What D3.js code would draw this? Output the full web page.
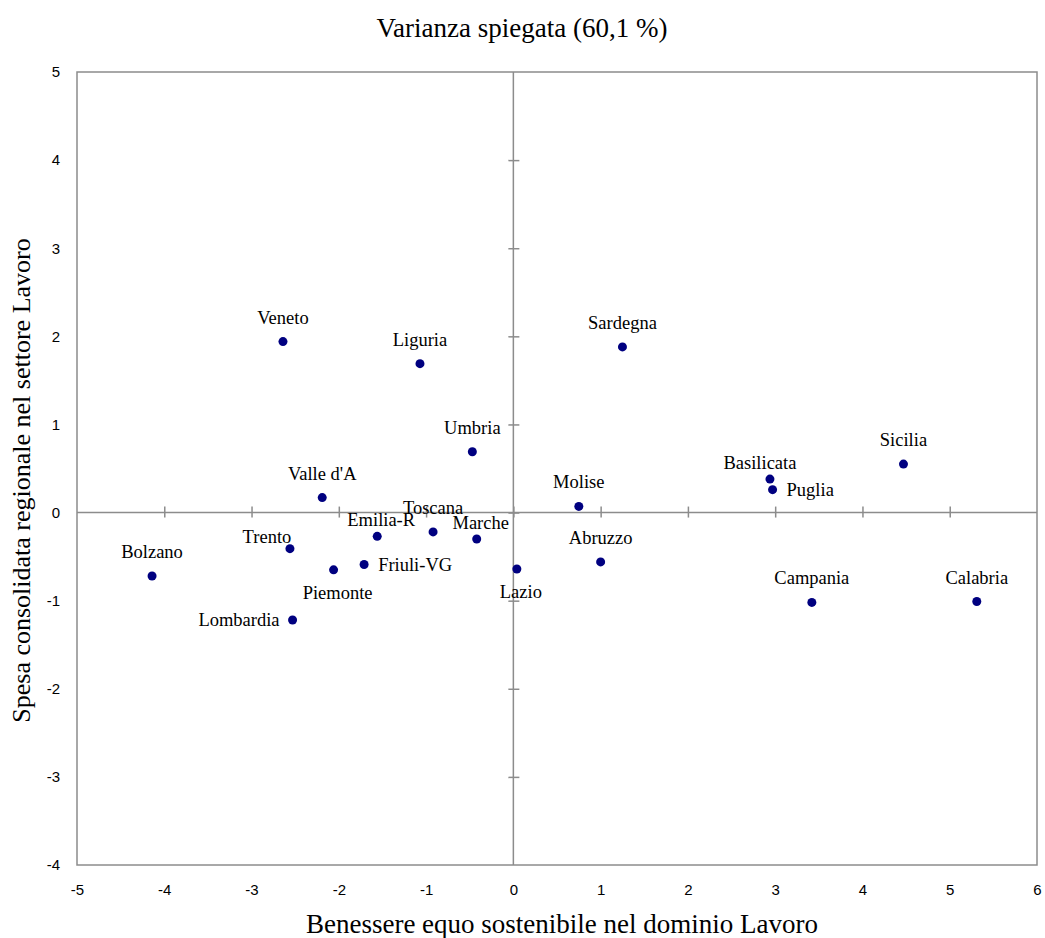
<!DOCTYPE html>
<html>
<head>
<meta charset="utf-8">
<script src="https://cdn.jsdelivr.net/npm/d3@7"></script>
<style>
  body { margin: 0; background: #fff; }
  .tick text { font-family: "Liberation Sans", Arial, sans-serif; font-size: 15px; fill: #000; }
  .lbl { font-family: "Liberation Serif", "Times New Roman", serif; font-size: 18.5px; fill: #000; }
  .ttl { font-family: "Liberation Serif", "Times New Roman", serif; font-size: 27px; fill: #000; }
</style>
</head>
<body>
<svg id="chart" width="1045" height="938"></svg>
<script>
// regions and their scores
const regions = ["Veneto", "Liguria", "Sardegna", "Umbria", "Sicilia", "Basilicata", "Puglia", "Molise",
  "Valle d'A", "Toscana", "Emilia-R", "Marche", "Trento", "Friuli-VG", "Piemonte", "Lazio",
  "Lombardia", "Bolzano", "Abruzzo", "Campania", "Calabria"];
const xValues = [-2.64, -1.07, 1.25, -0.47, 4.47, 2.94, 2.97, 0.75,
  -2.19, -0.92, -1.56, -0.42, -2.56, -1.71, -2.06, 0.04,
  -2.53, -4.14, 1.00, 3.42, 5.31];
const yValues = [1.94, 1.69, 1.88, 0.69, 0.55, 0.38, 0.26, 0.07,
  0.17, -0.22, -0.27, -0.30, -0.41, -0.59, -0.65, -0.64,
  -1.22, -0.72, -0.56, -1.02, -1.01];
// where each label sits relative to its point
const labelPlace = ["top", "top", "top", "top", "top", "topLeft", "right", "top",
  "top", "top", "topNear", "topNear", "leftUp", "right", "bottom", "bottom",
  "left", "top", "top", "top", "top"];
const xTicks = [-5, -4, -3, -2, -1, 0, 1, 2, 3, 4, 5, 6];
const yTicks = [-4, -3, -2, -1, 0, 1, 2, 3, 4, 5];

const title = "Varianza spiegata (60,1 %)";
const xTitle = "Benessere equo sostenibile nel dominio Lavoro";
const yTitle = "Spesa consolidata regionale nel settore Lavoro";

const margin = { top: 72, right: 8, bottom: 73, left: 77 };
const width = 1045, height = 938;
const svg = d3.select("#chart");

const x = d3.scaleLinear().domain([-5, 6]).range([margin.left, width - margin.right]);
const y = d3.scaleLinear().domain([-4, 5]).range([height - margin.bottom, margin.top]);
const gridColor = "#8c8c8c";

// tick labels along the frame (plain hyphen for minus, like the original)
svg.append("g")
  .attr("transform", `translate(0,${y(-4)})`)
  .call(d3.axisBottom(x).tickValues(xTicks).tickSize(0).tickPadding(19).tickFormat(d => String(d)))
  .call(g => g.select(".domain").remove());
svg.append("g")
  .attr("transform", `translate(${x(-5)},0)`)
  .call(d3.axisLeft(y).tickValues(yTicks).tickSize(0).tickPadding(17).tickFormat(d => String(d)))
  .call(g => g.select(".domain").remove());

// frame
svg.append("rect")
  .attr("x", x(-5)).attr("y", y(5))
  .attr("width", x(6) - x(-5)).attr("height", y(-4) - y(5))
  .attr("fill", "none").attr("stroke", gridColor).attr("stroke-width", 1.5);

// zero axes with crossing ticks
svg.append("g")
  .attr("transform", `translate(0,${y(0)})`)
  .call(d3.axisBottom(x).tickValues(xTicks.filter(d => d > -5 && d < 6)).tickSize(5).tickFormat(""))
  .call(g => g.select(".domain").attr("d", `M${x(-5)},0H${x(6)}`))
  .call(g => g.selectAll(".tick line").attr("y1", -6))
  .call(g => g.selectAll("path, line").attr("stroke", gridColor).attr("stroke-width", 1.5));
svg.append("g")
  .attr("transform", `translate(${x(0)},0)`)
  .call(d3.axisLeft(y).tickValues(yTicks.filter(d => d > -4 && d < 5)).tickSize(5).tickFormat(""))
  .call(g => g.select(".domain").attr("d", `M0,${y(5)}V${y(-4)}`))
  .call(g => g.selectAll(".tick line").attr("x1", 6))
  .call(g => g.selectAll("path, line").attr("stroke", gridColor).attr("stroke-width", 1.5));

// points
const data = regions.map((name, i) => ({ name, x: xValues[i], y: yValues[i], place: labelPlace[i] }));
svg.append("g").selectAll("circle")
  .data(data).join("circle")
  .attr("cx", d => x(d.x)).attr("cy", d => y(d.y))
  .attr("r", 4.5).attr("fill", "#000080");

const offsets = {
  top: [0, -18, "middle"],
  topNear: [4, -10, "middle"],
  topLeft: [-10, -10, "middle"],
  leftUp: [-23, -6, "middle"],
  right: [14, 6, "start"],
  left: [-13, 6, "end"],
  bottom: [4, 29, "middle"]
};
svg.append("g").selectAll("text")
  .data(data).join("text")
  .attr("class", "lbl")
  .attr("x", d => x(d.x) + offsets[d.place][0])
  .attr("y", d => y(d.y) + offsets[d.place][1])
  .attr("text-anchor", d => offsets[d.place][2])
  .text(d => d.name);

// titles
svg.append("text").attr("class", "ttl")
  .attr("x", 522).attr("y", 37).attr("text-anchor", "middle").text(title);
svg.append("text").attr("class", "ttl")
  .attr("x", 562).attr("y", 933).attr("text-anchor", "middle").text(xTitle);
svg.append("text").attr("class", "ttl")
  .style("font-size", "26px")
  .attr("transform", `translate(30,${(y(5) + y(-4)) / 2 + 12}) rotate(-90)`)
  .attr("text-anchor", "middle").text(yTitle);
</script>
</body>
</html>
